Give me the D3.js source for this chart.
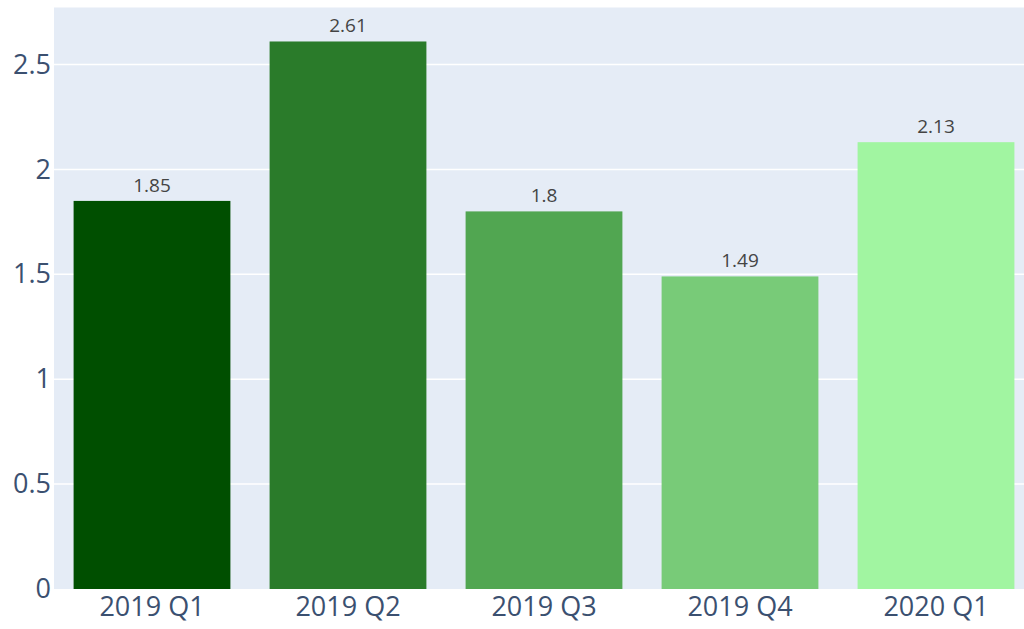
<!DOCTYPE html>
<html>
<head>
<meta charset="utf-8">
<script src="https://cdn.jsdelivr.net/npm/d3@7"></script>
<style>
  html, body { margin: 0; padding: 0; background: #fff; overflow: hidden; }
  svg { display: block; font-family: "Open Sans", sans-serif; }
</style>
</head>
<body>
<div id="chart"></div>
<script>
const WIDTH = 1024
const HEIGHT = 629

const quarters = ['2019 Q1', '2019 Q2', '2019 Q3', '2019 Q4', '2020 Q1']
const values = [1.85, 2.61, 1.8, 1.49, 2.13]
const barColors = ['#004f00', '#2a7b2a', '#51a651', '#78cb78', '#a1f5a1']
const yTicks = [0, 0.5, 1, 1.5, 2, 2.5]

// plot area runs past the right edge of the window, as in the reference
const plot = { left: 54, top: 7.5, right: 1034, bottom: 589 }

const svg = d3.select('#chart')
  .append('svg')
  .attr('width', WIDTH)
  .attr('height', HEIGHT)

const x = d3.scaleBand()
  .domain(quarters)
  .range([plot.left, plot.right])
  .paddingInner(0.2)
  .paddingOuter(0.1)

const y = d3.scaleLinear()
  .domain([0, 2.772])
  .range([plot.bottom, plot.top])

svg.append('rect')
  .attr('x', plot.left)
  .attr('y', plot.top)
  .attr('width', plot.right - plot.left)
  .attr('height', plot.bottom - plot.top)
  .attr('fill', '#e5ecf6')

// gridlines
svg.append('g')
  .selectAll('line')
  .data(yTicks.filter(d => d > 0))
  .join('line')
  .attr('x1', plot.left)
  .attr('x2', plot.right)
  .attr('y1', d => y(d))
  .attr('y2', d => y(d))
  .attr('stroke', '#fff')
  .attr('stroke-width', 1.5)

svg.selectAll('rect.bar')
  .data(values)
  .join('rect')
  .attr('class', 'bar')
  .attr('x', (d, i) => x(quarters[i]))
  .attr('width', x.bandwidth())
  .attr('y', d => y(d))
  .attr('height', d => y(0) - y(d))
  .attr('fill', (d, i) => barColors[i])

svg.selectAll('text.val')
  .data(values)
  .join('text')
  .attr('class', 'val')
  .attr('x', (d, i) => x(quarters[i]) + x.bandwidth() / 2)
  .attr('y', d => y(d) - 9)
  .attr('text-anchor', 'middle')
  .attr('font-size', 19)
  .attr('fill', '#444')
  .text(d => d)

// y axis
const yAxis = svg.append('g')
  .attr('transform', `translate(${plot.left},0)`)
  .call(d3.axisLeft(y).tickValues(yTicks).tickSize(0).tickPadding(3).tickFormat(d => d))
yAxis.select('.domain').remove()
yAxis.selectAll('text')
  .attr('font-size', 27)
  .attr('fill', '#3b5070')
  .attr('font-family', '"Open Sans", sans-serif')

// x axis
const xAxis = svg.append('g')
  .attr('transform', `translate(0,${plot.bottom})`)
  .call(d3.axisBottom(x).tickSize(0).tickPadding(8))
xAxis.select('.domain').remove()
xAxis.selectAll('text')
  .attr('font-size', 27)
  .attr('fill', '#3b5070')
  .attr('font-family', '"Open Sans", sans-serif')
</script>
</body>
</html>
